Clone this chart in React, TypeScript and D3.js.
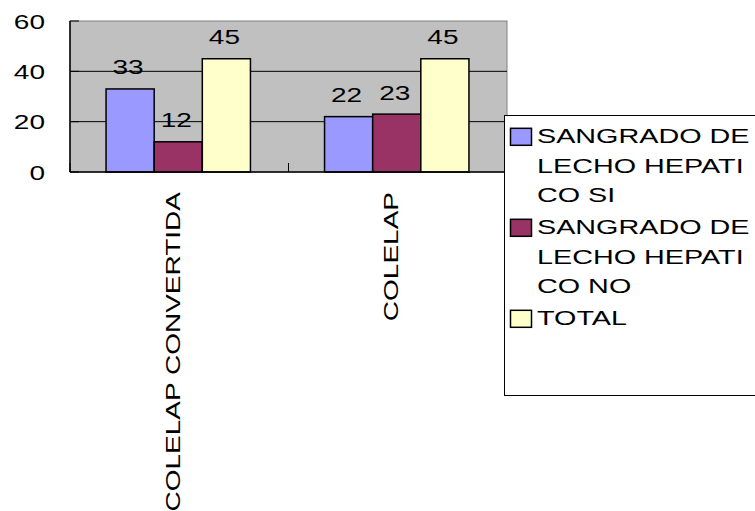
import * as React from "react";
import * as d3 from "d3";

const categories: string[] = ["COLELAP CONVERTIDA", "COLELAP"];
const seriesNames: string[] = ["SANGRADO DE LECHO HEPATICO SI", "SANGRADO DE LECHO HEPATICO NO", "TOTAL"];
const legendLines: string[][] = [
  ["SANGRADO DE", "LECHO HEPATI", "CO SI"],
  ["SANGRADO DE", "LECHO HEPATI", "CO NO"],
  ["TOTAL"]
];
const sangradoSi: number[] = [33, 22];
const sangradoNo: number[] = [12, 23];
const total: number[] = [45, 45];
const seriesColors: string[] = ["#9999ff", "#993366", "#ffffcc"];
const yTicks: number[] = [0, 20, 40, 60];

type Margin = { top: number; bottom: number; left: number; right: number };

const WIDTH = 755;
const HEIGHT = 511;
const FONT = "'Liberation Sans', Arial, sans-serif";
const STRETCH = 1.4; // the original text is widened horizontally

export default class App extends React.PureComponent {
  private svgRef = React.createRef<SVGSVGElement>();
  private plot: Margin = { left: 70, right: 507, top: 21, bottom: 172 };

  public componentDidMount(): void {
    this.drawChart();
  }

  public render(): JSX.Element {
    return <svg ref={this.svgRef} width={WIDTH} height={HEIGHT}
      style={{ position: "absolute", left: 0, top: 0, background: "#ffffff" }} />;
  }

  private drawChart(): void {
    const svg = d3.select(this.svgRef.current);
    svg.selectAll("*").remove();
    const p = this.plot;
    const values: number[][] = [sangradoSi, sangradoNo, total];

    const x0 = d3.scaleBand<string>().domain(categories).range([p.left, p.right]);
    const x1 = d3.scaleBand<string>().domain(seriesNames)
      .range([0, x0.bandwidth()]).paddingInner(0).paddingOuter(0.77);
    const y = d3.scaleLinear().domain([0, 60]).range([p.bottom, p.top]);

    // plot area
    svg.append("rect")
      .attr("x", p.left).attr("y", p.top)
      .attr("width", p.right - p.left).attr("height", p.bottom - p.top)
      .attr("fill", "#c0c0c0").attr("stroke", "#808080").attr("stroke-width", 1);

    // gridlines
    svg.selectAll(".grid").data(yTicks.filter((t) => t > 0 && t < 60)).enter()
      .append("line")
      .attr("x1", p.left).attr("x2", p.right)
      .attr("y1", (d) => y(d)).attr("y2", (d) => y(d))
      .attr("stroke", "#000").attr("stroke-width", 1);

    // inner ticks on y axis
    svg.selectAll(".ytick").data(yTicks).enter()
      .append("line")
      .attr("x1", p.left).attr("x2", p.left + 9)
      .attr("y1", (d) => y(d)).attr("y2", (d) => y(d))
      .attr("stroke", "#000").attr("stroke-width", 1);

    // category ticks
    const boundaries: number[] = categories.map((c) => x0(c) as number).concat([p.right]);
    svg.selectAll(".xtick").data(boundaries).enter()
      .append("line")
      .attr("x1", (d) => d).attr("x2", (d) => d)
      .attr("y1", p.bottom - 9).attr("y2", p.bottom)
      .attr("stroke", "#000").attr("stroke-width", 1);

    // bars
    values.forEach((series: number[], si: number) => {
      const g = svg.append("g");
      g.selectAll("rect").data(series).enter()
        .append("rect")
        .attr("x", (_d, i) => (x0(categories[i]) as number) + (x1(seriesNames[si]) as number) - 1)
        .attr("y", (d) => y(d))
        .attr("width", x1.bandwidth())
        .attr("height", (d) => y(0) - y(d))
        .attr("fill", seriesColors[si])
        .attr("stroke", "#000").attr("stroke-width", 1.5);

      g.selectAll("text").data(series).enter()
        .append("text")
        .attr("transform", (d, i) => {
          const cx = (x0(categories[i]) as number) + (x1(seriesNames[si]) as number) + x1.bandwidth() / 2 - 3;
          return `translate(${cx}, ${y(d) - 14.5}) scale(${STRETCH}, 1)`;
        })
        .attr("text-anchor", "middle")
        .style("font-family", FONT).style("font-size", "20px").attr("fill", "#000")
        .text((d) => String(d));
    });

    // axes
    svg.append("line")
      .attr("x1", p.left).attr("x2", p.left).attr("y1", p.top).attr("y2", p.bottom)
      .attr("stroke", "#000").attr("stroke-width", 1.5);
    svg.append("line")
      .attr("x1", p.left).attr("x2", p.right).attr("y1", p.bottom).attr("y2", p.bottom)
      .attr("stroke", "#000").attr("stroke-width", 1.5);

    // y tick labels
    svg.selectAll(".ylabel").data(yTicks).enter()
      .append("text")
      .attr("transform", (d) => `translate(${p.left - 25}, ${y(d) + 7.5}) scale(${STRETCH}, 1)`)
      .attr("text-anchor", "end")
      .style("font-family", FONT).style("font-size", "20px").attr("fill", "#000")
      .text((d) => String(d));

    // category labels, rotated
    svg.selectAll(".xlabel").data(categories).enter()
      .append("text")
      .attr("transform", (d) =>
        `translate(${(x0(d) as number) + x0.bandwidth() / 2 + 0.5}, ${p.bottom + 20}) scale(1, ${STRETCH}) rotate(-90)`)
      .attr("text-anchor", "end")
      .style("font-family", FONT).style("font-size", "20px").attr("fill", "#000")
      .text((d) => d);

    // legend
    const legend = svg.append("g");
    legend.append("rect")
      .attr("x", 504.5).attr("y", 115.5).attr("width", 270).attr("height", 280)
      .attr("fill", "#fff").attr("stroke", "#000").attr("stroke-width", 1);

    const lineHeight = 29.5;
    const entryGap = 2.5;
    let baseline = 143.3;
    legendLines.forEach((lines: string[], i: number) => {
      legend.append("rect")
        .attr("x", 510.5).attr("y", baseline - 15)
        .attr("width", 21).attr("height", 17)
        .attr("fill", seriesColors[i]).attr("stroke", "#000").attr("stroke-width", 1.5);
      lines.forEach((line: string, li: number) => {
        legend.append("text")
          .attr("transform", `translate(537, ${baseline + li * lineHeight}) scale(1.37, 1)`)
          .style("font-family", FONT).style("font-size", "21px").attr("fill", "#000")
          .text(line);
      });
      baseline += lines.length * lineHeight + entryGap;
    });
  }
}
